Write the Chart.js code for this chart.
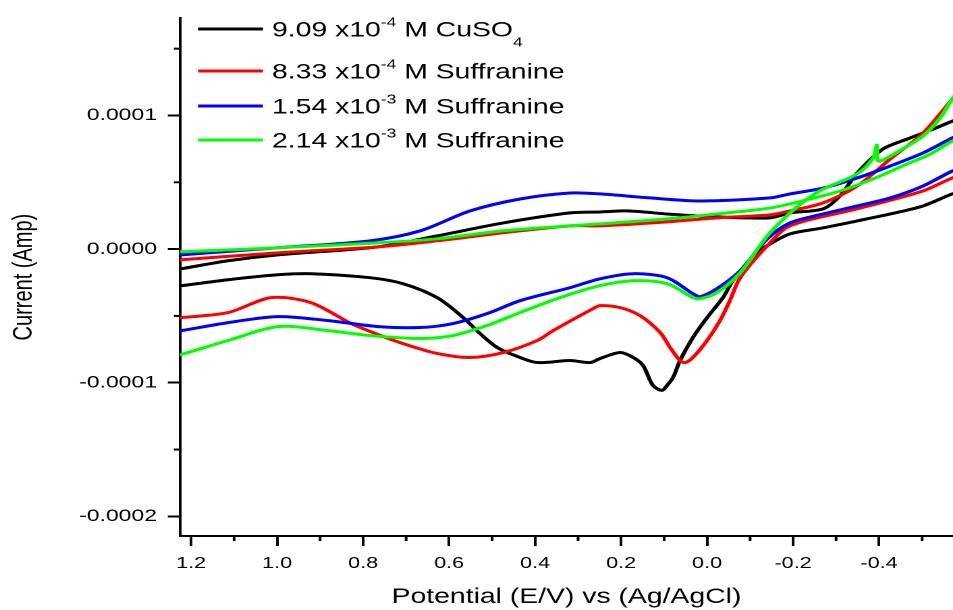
<!DOCTYPE html>
<html>
<head>
<meta charset="utf-8">
<script src="https://cdn.jsdelivr.net/npm/chart.js@4.4.1/dist/chart.umd.min.js"></script>
<style>
  html, body { margin: 0; padding: 0; background: #fff; overflow: hidden; }
  /* the original figure is stretched sideways, so the chart is drawn narrow and widened */
  #wrap { width: 706px; height: 610px; transform: scaleX(1.3499); transform-origin: 0 0; }
</style>
</head>
<body>
<div id="wrap"><canvas id="cv" width="706" height="610"></canvas></div>
<script>
// axis ticks
const xTicks = [1.2, 1.0, 0.8, 0.6, 0.4, 0.2, 0.0, -0.2, -0.4];
const xMinorTicks = [1.1, 0.9, 0.7, 0.5, 0.3, 0.1, -0.1, -0.3, -0.5];
const yTicks = [-0.0002, -0.0001, 0, 0.0001];
const yMinorTicks = [-0.00015, -0.00005, 0.00005, 0.00015];

const seriesLabels = [
  '9.09 x10^{-4} M CuSO_{4}',
  '8.33 x10^{-4} M Suffranine',
  '1.54 x10^{-3} M Suffranine',
  '2.14 x10^{-3} M Suffranine'
];
const seriesColors = ['#000000', '#ff0000', '#0000ff', '#00ff00'];

// each loop: forward branch (left to right) then return branch (right to left)
const cuso4Potential = [1.25, 1.223, 1.114, 0.998, 0.765, 0.628, 0.474, 0.319, 0.249, 0.186, 0.093, -0.023, -0.147, -0.193, -0.270, -0.309, -0.349, -0.409, -0.465, -0.526, -0.570, -0.60,
  -0.60, -0.570, -0.502, -0.426, -0.349, -0.270, -0.193, -0.147, -0.123, -0.100, -0.060, -0.037, 0.000, 0.033, 0.063, 0.079, 0.093, 0.105, 0.126, 0.149, 0.172, 0.202, 0.249, 0.272, 0.319, 0.395, 0.435, 0.488, 0.528, 0.567, 0.628, 0.707, 0.784, 0.921, 0.998, 1.114, 1.223, 1.25];
const cuso4Current = [-1.6e-5, -1.47e-5, -0.87e-5, -0.43e-5, 0.17e-5, 0.99e-5, 1.96e-5, 2.71e-5, 2.78e-5, 2.86e-5, 2.63e-5, 2.41e-5, 2.34e-5, 2.71e-5, 3.01e-5, 3.98e-5, 5.69e-5, 7.49e-5, 8.23e-5, 8.98e-5, 9.57e-5, 9.9e-5,
  4.4e-5, 4.13e-5, 3.23e-5, 2.63e-5, 2.11e-5, 1.59e-5, 1.14e-5, 0.40e-5, -0.13e-5, -1.02e-5, -2.37e-5, -3.63e-5, -5.13e-5, -6.62e-5, -8.34e-5, -9.60e-5, -10.2e-5, -10.57e-5, -10.2e-5, -8.71e-5, -8.11e-5, -7.74e-5, -8.19e-5, -8.49e-5, -8.34e-5, -8.49e-5, -8.11e-5, -7.37e-5, -6.32e-5, -5.13e-5, -3.63e-5, -2.59e-5, -2.14e-5, -1.84e-5, -1.92e-5, -2.29e-5, -2.74e-5, -2.85e-5];

const suff833Potential = [1.25, 1.223, 0.998, 0.765, 0.628, 0.474, 0.319, 0.249, 0.093, -0.023, -0.147, -0.193, -0.270, -0.349, -0.426, -0.502, -0.570, -0.60,
  -0.60, -0.570, -0.502, -0.349, -0.193, -0.140, -0.077, -0.053, -0.030, 0.000, 0.033, 0.051, 0.063, 0.086, 0.109, 0.156, 0.202, 0.249, 0.265, 0.358, 0.395, 0.474, 0.551, 0.628, 0.707, 0.765, 0.828, 0.921, 1.014, 1.114, 1.223, 1.25];
const suff833Current = [-0.9e-5, -0.80e-5, -0.28e-5, 0.17e-5, 0.62e-5, 1.22e-5, 1.74e-5, 1.74e-5, 2.04e-5, 2.34e-5, 2.56e-5, 2.86e-5, 3.46e-5, 4.72e-5, 6.74e-5, 8.68e-5, 11.2e-5, 12.2e-5,
  5.6e-5, 5.32e-5, 4.35e-5, 3.01e-5, 1.74e-5, 0.25e-5, -2.14e-5, -3.86e-5, -5.35e-5, -6.84e-5, -8.11e-5, -8.49e-5, -8.34e-5, -7.37e-5, -6.25e-5, -4.98e-5, -4.38e-5, -4.23e-5, -4.45e-5, -6.10e-5, -6.84e-5, -7.74e-5, -8.11e-5, -7.81e-5, -7.07e-5, -6.40e-5, -5.57e-5, -4.01e-5, -3.63e-5, -4.75e-5, -5.13e-5, -5.2e-5];

const suff154Potential = [1.25, 1.223, 0.998, 0.784, 0.667, 0.551, 0.435, 0.319, 0.249, 0.133, 0.016, -0.147, -0.193, -0.270, -0.349, -0.426, -0.502, -0.570, -0.60,
  -0.60, -0.570, -0.502, -0.426, -0.349, -0.270, -0.193, -0.140, -0.077, -0.023, 0.016, 0.033, 0.093, 0.172, 0.249, 0.319, 0.435, 0.512, 0.591, 0.667, 0.765, 0.881, 0.998, 1.114, 1.223, 1.25];
const suff154Current = [-0.5e-5, -0.43e-5, 0.10e-5, 0.62e-5, 1.37e-5, 2.86e-5, 3.75e-5, 4.20e-5, 4.13e-5, 3.83e-5, 3.60e-5, 3.83e-5, 4.13e-5, 4.57e-5, 5.32e-5, 6.22e-5, 7.19e-5, 8.31e-5, 8.7e-5,
  6.2e-5, 5.84e-5, 4.72e-5, 3.83e-5, 3.23e-5, 2.63e-5, 1.96e-5, 0.77e-5, -1.62e-5, -2.96e-5, -3.56e-5, -3.34e-5, -2.14e-5, -1.84e-5, -2.22e-5, -2.89e-5, -3.86e-5, -4.83e-5, -5.57e-5, -5.87e-5, -5.80e-5, -5.35e-5, -5.05e-5, -5.50e-5, -6.10e-5, -6.2e-5];

const suff214Potential = [1.25, 1.223, 0.998, 0.765, 0.628, 0.474, 0.319, 0.249, 0.093, -0.023, -0.147, -0.240, -0.309, -0.386, -0.465, -0.519, -0.570, -0.60,
  -0.60, -0.570, -0.542, -0.502, -0.426, -0.398, -0.395, -0.386, -0.349, -0.270, -0.233, -0.193, -0.140, -0.077, -0.023, 0.016, 0.033, 0.093, 0.172, 0.249, 0.342, 0.435, 0.512, 0.591, 0.667, 0.784, 0.881, 0.998, 1.114, 1.223, 1.25];
const suff214Current = [-0.15e-5, -0.20e-5, 0.10e-5, 0.47e-5, 0.77e-5, 1.37e-5, 1.74e-5, 1.89e-5, 2.26e-5, 2.63e-5, 3.08e-5, 3.75e-5, 4.35e-5, 5.25e-5, 6.37e-5, 7.11e-5, 8.08e-5, 8.5e-5,
  12.3e-5, 11.22e-5, 9.8e-5, 8.46e-5, 6.96e-5, 6.59e-5, 7.78e-5, 6.81e-5, 5.62e-5, 4.50e-5, 3.75e-5, 2.71e-5, 0.99e-5, -1.77e-5, -3.26e-5, -3.71e-5, -3.63e-5, -2.59e-5, -2.37e-5, -2.74e-5, -3.63e-5, -4.75e-5, -5.72e-5, -6.47e-5, -6.69e-5, -6.47e-5, -6.10e-5, -5.80e-5, -6.84e-5, -7.89e-5, -8.1e-5];

const potentials = [cuso4Potential, suff833Potential, suff154Potential, suff214Potential];
const currents = [cuso4Current, suff833Current, suff154Current, suff214Current];

const FONT = '"Liberation Sans", Arial, sans-serif';
Chart.defaults.font.family = FONT;
Chart.defaults.color = '#000';

function drawRich(ctx, text, x, y) {
  const parts = text.split(/(\^\{[^}]*\}|_\{[^}]*\})/).filter(Boolean);
  parts.forEach(p => {
    let s = p, size = 21, dy = 0;
    if (p.startsWith('^{')) { s = p.slice(2, -1); size = 13; dy = -10; }
    else if (p.startsWith('_{')) { s = p.slice(2, -1); size = 13; dy = 10; }
    ctx.font = size + 'px ' + FONT;
    ctx.fillText(s, x, y + dy);
    x += ctx.measureText(s).width;
  });
}

const extras = {
  id: 'extras',
  afterDraw(chart) {
    const { ctx, chartArea, scales: { x, y } } = chart;
    ctx.save();
    ctx.strokeStyle = '#000';
    ctx.lineWidth = 2;
    xMinorTicks.forEach(v => {
      const px = x.getPixelForValue(v);
      ctx.beginPath();
      ctx.moveTo(px, chartArea.bottom);
      ctx.lineTo(px, chartArea.bottom + 5);
      ctx.stroke();
    });
    yMinorTicks.forEach(v => {
      const py = y.getPixelForValue(v);
      ctx.beginPath();
      ctx.moveTo(chartArea.left, py);
      ctx.lineTo(chartArea.left - 4.5, py);
      ctx.stroke();
    });

    // legend inside the plot
    const rows = [29, 71, 106, 140];
    ctx.textBaseline = 'alphabetic';
    ctx.textAlign = 'left';
    ctx.fillStyle = '#000';
    chart.data.datasets.forEach((ds, i) => {
      ctx.strokeStyle = ds.borderColor;
      ctx.lineWidth = 3;
      ctx.beginPath();
      ctx.moveTo(146.7, rows[i]);
      ctx.lineTo(194.8, rows[i]);
      ctx.stroke();
      drawRich(ctx, seriesLabels[i], 201.5, rows[i] + 7.5);
    });
    ctx.restore();
  }
};

new Chart(document.getElementById('cv'), {
  type: 'scatter',
  data: {
    datasets: seriesLabels.map((label, i) => ({
      label: label,
      data: potentials[i].map((v, k) => ({ x: v, y: currents[i][k] })),
      showLine: true,
      borderColor: seriesColors[i],
      backgroundColor: seriesColors[i],
      borderWidth: 3,
      pointRadius: 0,
      tension: 0.3,
      order: 3 - i
    }))
  },
  options: {
    responsive: false,
    devicePixelRatio: 2,
    animation: false,
    layout: { padding: { top: 17, right: 0, left: 0, bottom: 0 } },
    plugins: { legend: { display: false }, tooltip: { enabled: false } },
    scales: {
      x: {
        type: 'linear',
        reverse: true,
        min: -0.572,
        max: 1.226,
        afterBuildTicks: s => { s.ticks = xTicks.map(v => ({ value: v })); },
        afterFit: s => { s.height = 74; },
        ticks: { callback: v => v.toFixed(1), font: { size: 16 }, padding: 8, maxRotation: 0, autoSkip: false },
        grid: { drawOnChartArea: false, color: '#000', lineWidth: 2, tickLength: 10 },
        border: { color: '#000', width: 2 },
        title: { display: true, text: 'Potential (E/V) vs (Ag/AgCl)', font: { size: 21 }, padding: { top: 0, bottom: 0 } }
      },
      y: {
        min: -0.0002147,
        max: 0.0001728,
        afterBuildTicks: s => { s.ticks = yTicks.map(v => ({ value: v })); },
        afterFit: s => { s.width = 133.3; },
        ticks: { callback: v => v.toFixed(4), font: { size: 17 }, padding: 8, autoSkip: false },
        grid: { drawOnChartArea: false, color: '#000', lineWidth: 2, tickLength: 9 },
        border: { color: '#000', width: 2 },
        title: { display: true, text: 'Current (Amp)', font: { size: 20 }, padding: { top: 6, bottom: 0 } }
      }
    }
  },
  plugins: [extras]
});
</script>
</body>
</html>
